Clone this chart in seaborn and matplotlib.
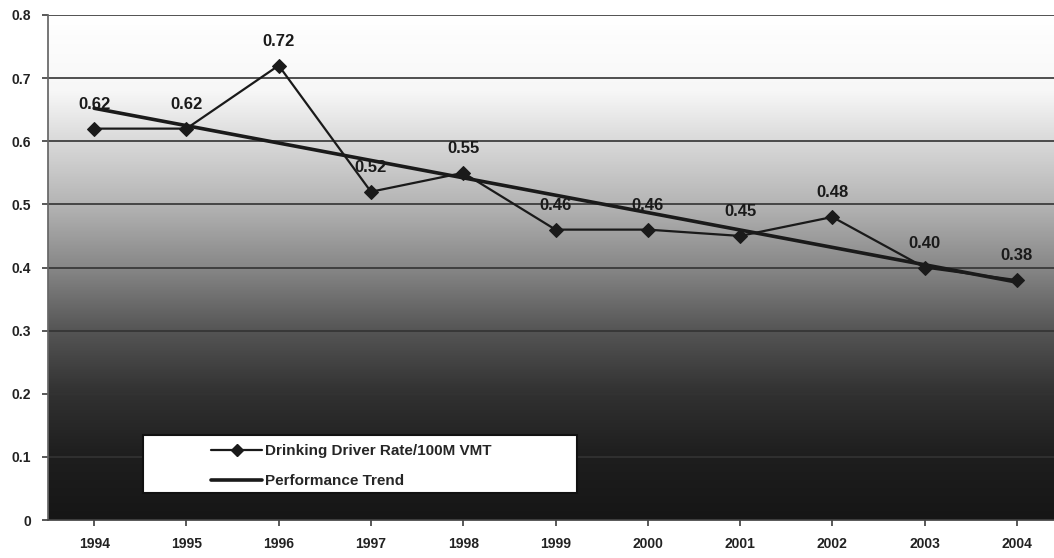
import numpy as np
import pandas as pd
import matplotlib
matplotlib.use('Agg')
import matplotlib.pyplot as plt
from matplotlib.colors import LinearSegmentedColormap
from matplotlib.lines import Line2D
from matplotlib.patches import Rectangle
import seaborn as sns

years = ['1994', '1995', '1996', '1997', '1998', '1999', '2000', '2001', '2002', '2003', '2004']
rate = [0.62, 0.62, 0.72, 0.52, 0.55, 0.46, 0.46, 0.45, 0.48, 0.40, 0.38]
labels = ['0.62', '0.62', '0.72', '0.52', '0.55', '0.46', '0.46', '0.45', '0.48', '0.40', '0.38']
yticks = [0, 0.1, 0.2, 0.3, 0.4, 0.5, 0.6, 0.7, 0.8]
ytick_labels = ['0', '0.1', '0.2', '0.3', '0.4', '0.5', '0.6', '0.7', '0.8']

df = pd.DataFrame({'idx': np.arange(len(years)), 'year': years, 'rate': rate})

sns.set_theme(style='white')
plt.rcParams['font.family'] = ['Liberation Sans', 'DejaVu Sans']

fig = plt.figure(figsize=(10.54, 5.58), dpi=100)
ax = fig.add_axes([48 / 1054, 38 / 558, 1015 / 1054, 505 / 558])

# grey gradient background (white top -> near black bottom)
grad = LinearSegmentedColormap.from_list(
    'bg', [(0.0, '#161616'), (0.125, '#1e1e1e'), (0.25, '#313131'), (0.375, '#555555'),
           (0.5, '#878787'), (0.625, '#b4b4b4'), (0.75, '#d9d9d9'), (0.85, '#f7f7f7'), (1.0, '#ffffff')])
ax.imshow(np.linspace(0, 1, 256).reshape(-1, 1), aspect='auto', cmap=grad,
          extent=(-0.5, 10.5, 0, 0.8), origin='lower', zorder=0)

for t in yticks[1:]:
    ax.axhline(t, color='#333333', lw=1.2, zorder=1)

sns.lineplot(data=df, x='idx', y='rate', ax=ax, color='#1a1a1a', lw=1.6,
             marker='D', markersize=7, markeredgecolor='#1a1a1a', zorder=3)
sns.regplot(data=df, x='idx', y='rate', ax=ax, scatter=False, ci=None, truncate=True,
            line_kws={'color': '#1a1a1a', 'lw': 2.6, 'zorder': 2})

for i, (v, s) in enumerate(zip(rate, labels)):
    ax.annotate(s, (i, v), xytext=(0, 12), textcoords='offset points', ha='center',
                va='bottom', fontsize=12, fontweight='bold', color='#1a1a1a', zorder=4)

ax.set_xlim(-0.5, 10.5)
ax.set_ylim(0, 0.8)
ax.set_xticks(range(len(years)))
ax.set_xticklabels(years, fontsize=10, fontweight='bold', color='#222222')
ax.set_yticks(yticks)
ax.set_yticklabels(ytick_labels, fontsize=10, fontweight='bold', color='#222222')
ax.set_xlabel('')
ax.set_ylabel('')
ax.tick_params(axis='both', length=4, color='#444444', direction='out', bottom=True, left=True, pad=8)
for s in ['top', 'right']:
    ax.spines[s].set_visible(False)
ax.spines['left'].set_color('#666666')
ax.spines['bottom'].set_color('#444444')

# legend box drawn separately so the entries sit indented like the original
ax.add_patch(Rectangle((0.0936, 0.0535), 0.428, 0.115, transform=ax.transAxes,
                       facecolor='white', edgecolor='#111111', lw=1.5, zorder=5))
handles = [Line2D([], [], color='#1a1a1a', lw=1.6, marker='D', markersize=6),
           Line2D([], [], color='#1a1a1a', lw=2.6)]
leg = ax.legend(handles, ['Drinking Driver Rate/100M VMT', 'Performance Trend'],
                loc='upper left', bbox_to_anchor=(0.158, 0.156), frameon=False,
                prop={'weight': 'bold', 'size': 11}, handlelength=3.3, handletextpad=0.2,
                borderpad=0.2, labelspacing=1.05, borderaxespad=0)
leg.set_zorder(6)

fig.savefig('out.png', dpi=100)
